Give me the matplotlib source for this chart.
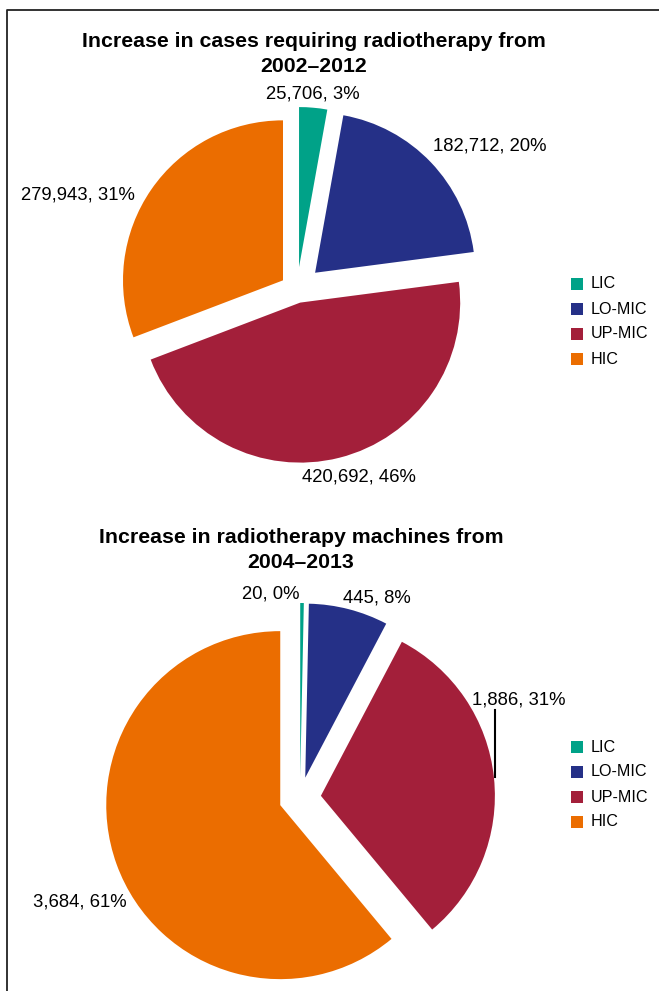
import matplotlib.pyplot as plt
from matplotlib.patches import Rectangle

# data
groups = ['LIC', 'LO-MIC', 'UP-MIC', 'HIC']
colors = ['#00A288', '#253087', '#A31F3A', '#EB6D00']

cases_values = [25706, 182712, 420692, 279943]
cases_pct = [3, 20, 46, 31]
machines_values = [20, 445, 1886, 3684]
machines_pct = [0, 8, 31, 61]

W, H = 659, 991

fig = plt.figure(figsize=(W / 100, H / 100), dpi=100)
ax = fig.add_axes([0, 0, 1, 1])

label_font = ['Liberation Sans', 'DejaVu Sans']
title_font = ['Liberation Sans Narrow', 'Liberation Sans', 'DejaVu Sans']


def draw_pie(values, cx, cy, r, explode):
    ax.pie(values, colors=colors, startangle=90, counterclock=False,
           radius=r, center=(cx, H - cy), explode=explode,
           wedgeprops=dict(linewidth=0))


# top pie
draw_pie(cases_values, 297, 290, 160, [23, 25, 13, 17])
ax.text(314, H - 54, 'Increase in cases requiring radiotherapy from\n2002\u20132012',
        ha='center', va='center', fontsize=15.3, fontweight='bold',
        family=title_font, linespacing=1.4)
top_pos = [(313, 94), (490, 146), (359, 477), (78, 195)]
for (x, y), v, p in zip(top_pos, cases_values, cases_pct):
    ax.text(x, H - y, '{:,}, {}%'.format(v, p), ha='center', va='center',
            fontsize=13.3, family=label_font)

# bottom pie
draw_pie(machines_values, 300, 798, 174, [21, 21, 21, 21])
ax.text(301, H - 550, 'Increase in radiotherapy machines from\n2004\u20132013',
        ha='center', va='center', fontsize=15.3, fontweight='bold',
        family=title_font, linespacing=1.4)
bot_pos = [(271, 594), (377, 598), (519, 700), (80, 902)]
for (x, y), v, p in zip(bot_pos, machines_values, machines_pct):
    ax.text(x, H - y, '{:,}, {}%'.format(v, p), ha='center', va='center',
            fontsize=13.3, family=label_font)
# leader line for UP-MIC label
ax.plot([495, 495], [H - 710, H - 777], color='black', lw=1.5)

# legends
for y0 in (284, 747):
    for i, (g, c) in enumerate(zip(groups, colors)):
        y = y0 + i * 25
        ax.add_patch(Rectangle((571, H - y - 6), 12, 12, color=c, lw=0))
        ax.text(591, H - y, g, ha='left', va='center', fontsize=11.6,
                family=label_font)

# frame
ax.plot([7, 7, 700], [-10, H - 10, H - 10], color='#222222', lw=1.3,
        clip_on=False)

ax.set_xlim(0, W)
ax.set_ylim(0, H)
ax.set_aspect('equal')
ax.axis('off')

fig.savefig('out.png', dpi=100)
